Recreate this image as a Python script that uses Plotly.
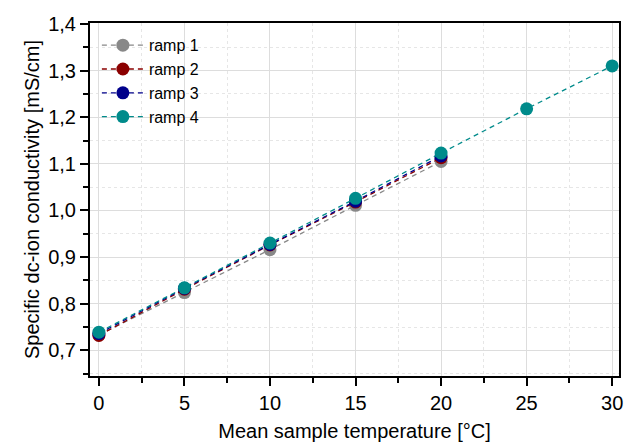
import plotly.graph_objects as go

temps_short = [0, 5, 10, 15, 20]
temps_long = [0, 5, 10, 15, 20, 25, 30]

ramp1 = [0.733, 0.824, 0.916, 1.011, 1.105]
ramp2 = [0.732, 0.831, 0.926, 1.018, 1.113]
ramp3 = [0.736, 0.833, 0.927, 1.020, 1.117]
ramp4 = [0.739, 0.834, 0.930, 1.026, 1.123, 1.218, 1.310]

names = ["ramp 1", "ramp 2", "ramp 3", "ramp 4"]
colors = ["#888888", "#8B0000", "#00008B", "#008B8B"]
xs = [temps_short, temps_short, temps_short, temps_long]
ys = [ramp1, ramp2, ramp3, ramp4]

fig = go.Figure()
for n, c, x, y in zip(names, colors, xs, ys):
    fig.add_trace(go.Scatter(
        x=x, y=y, name=n, mode="lines+markers",
        line=dict(color=c, width=1.3, dash="5px,4px"),
        marker=dict(color=c, size=13),
    ))

font = "Liberation Sans, Arial, sans-serif"
axis_common = dict(
    showline=True, linecolor="black", linewidth=2, mirror=True,
    ticks="outside", ticklen=8, tickwidth=2, tickcolor="black",
    showgrid=True, gridcolor="#dddddd", gridwidth=1,
    zeroline=False,
    tickfont=dict(family=font, size=20, color="black"),
)

fig.update_xaxes(
    range=[-0.52, 30.4], dtick=5, tick0=0,
    title=dict(text="Mean sample temperature [°C]", font=dict(family=font, size=20, color="black"), standoff=11),
    minor=dict(dtick=2.5, tick0=0, ticks="outside", ticklen=5, tickwidth=2, tickcolor="black",
               showgrid=True, gridcolor="#e6e6e6", griddash="dot", gridwidth=1),
    **axis_common,
)
fig.update_yaxes(
    range=[0.645, 1.402], dtick=0.1, tick0=0.7, tickformat=".1f",
    title=dict(text="Specific dc-ion conductivity [mS/cm]", font=dict(family=font, size=20, color="black"), standoff=3),
    minor=dict(dtick=0.05, tick0=0.7, ticks="outside", ticklen=5, tickwidth=2, tickcolor="black",
               showgrid=True, gridcolor="#e6e6e6", griddash="dot", gridwidth=1),
    **axis_common,
)

fig.update_layout(
    width=630, height=446,
    margin=dict(l=90, r=7, t=23, b=64),
    plot_bgcolor="white", paper_bgcolor="white",
    separators=",.",
    font=dict(family=font, size=17, color="black"),
    legend=dict(x=0.013, y=0.985, xanchor="left", yanchor="top",
                bgcolor="rgba(255,255,255,0)", font=dict(family=font, size=16, color="black"),
                tracegroupgap=0, itemwidth=42),
    showlegend=True,
)

fig.write_html("out.html", config={"displayModeBar": False},
               post_script="document.body.style.margin='0';document.body.style.overflow='hidden';")
